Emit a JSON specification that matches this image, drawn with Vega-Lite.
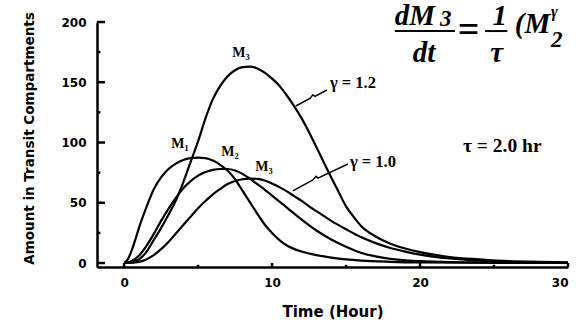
{
  "$schema": "https://vega.github.io/schema/vega-lite/v6.json",
  "width": 471,
  "height": 245,
  "autosize": {"type": "none"},
  "padding": {"left": 97, "top": 22, "right": 8, "bottom": 54},
  "background": "white",
  "config": {"view": {"stroke": null}},
  "encoding": {
    "x": {
      "field": "t", "type": "quantitative",
      "scale": {"domain": [-1.83, 30], "nice": false, "zero": false},
      "axis": {
        "values": [0, 10, 20, 30],
        "grid": false, "ticks": false,
        "domainColor": "black", "domainWidth": 2.5,
        "labelFont": "DejaVu Sans", "labelFontWeight": "bold", "labelFontSize": 12, "labelColor": "black",
        "labelPadding": 10,
        "title": "Time (Hour)",
        "titleFont": "DejaVu Sans", "titleFontWeight": "bold", "titleFontSize": 15, "titleColor": "black",
        "titleBaseline": "alphabetic", "titleY": 49
      }
    },
    "y": {
      "field": "v", "type": "quantitative",
      "scale": {"domain": [-3.3, 200], "nice": false, "zero": false},
      "axis": {
        "values": [0, 50, 100, 150, 200],
        "grid": false, "ticks": false,
        "domainColor": "black", "domainWidth": 2.5,
        "labelFont": "DejaVu Sans", "labelFontWeight": "bold", "labelFontSize": 12, "labelColor": "black",
        "labelPadding": 11,
        "title": "Amount in Transit Compartments",
        "titleFont": "DejaVu Sans", "titleFontWeight": "bold", "titleFontSize": 13.5, "titleColor": "black",
        "titleAngle": -90, "titleX": -68, "titleY": 116, "titleAlign": "center", "titleBaseline": "middle"
      }
    }
  },
  "layer": [
    {
      "data": {"values": [
        {"t": -1.83, "t2": -1.29, "v": 0}, {"t": -1.83, "t2": -1.29, "v": 50}, {"t": -1.83, "t2": -1.29, "v": 100},
        {"t": -1.83, "t2": -1.29, "v": 150}, {"t": -1.83, "t2": -1.29, "v": 200},
        {"t": -1.83, "t2": -1.6, "v": 25}, {"t": -1.83, "t2": -1.6, "v": 75}, {"t": -1.83, "t2": -1.6, "v": 125}, {"t": -1.83, "t2": -1.6, "v": 175}
      ]},
      "mark": {"type": "rule", "color": "black", "strokeWidth": 2.5, "clip": false},
      "encoding": {"x2": {"field": "t2"}}
    },
    {
      "data": {"values": [
        {"t": 0, "v": -3.3, "v2": 0}, {"t": 10, "v": -3.3, "v2": 0}, {"t": 20, "v": -3.3, "v2": 0}, {"t": 30, "v": -3.3, "v2": 0},
        {"t": 5, "v": -3.3, "v2": -1.5}, {"t": 15, "v": -3.3, "v2": -1.5}, {"t": 25, "v": -3.3, "v2": -1.5}
      ]},
      "mark": {"type": "rule", "color": "black", "strokeWidth": 2.5, "clip": false},
      "encoding": {"y2": {"field": "v2"}}
    },
    {
      "data": {"values": [
        {"series": "M1", "t": 0, "v": 0}, {"series": "M1", "t": 0.25, "v": 3}, {"series": "M1", "t": 0.5, "v": 10}, {"series": "M1", "t": 0.75, "v": 19},
        {"series": "M1", "t": 1, "v": 29}, {"series": "M1", "t": 1.5, "v": 46}, {"series": "M1", "t": 2, "v": 61}, {"series": "M1", "t": 2.5, "v": 71},
        {"series": "M1", "t": 3, "v": 78}, {"series": "M1", "t": 3.5, "v": 82.5}, {"series": "M1", "t": 4, "v": 85.5}, {"series": "M1", "t": 4.5, "v": 87},
        {"series": "M1", "t": 5, "v": 87.5}, {"series": "M1", "t": 5.5, "v": 87}, {"series": "M1", "t": 6, "v": 85}, {"series": "M1", "t": 6.5, "v": 81.5},
        {"series": "M1", "t": 7, "v": 76.5}, {"series": "M1", "t": 7.5, "v": 69.5}, {"series": "M1", "t": 8, "v": 60}, {"series": "M1", "t": 8.5, "v": 50.5},
        {"series": "M1", "t": 9, "v": 41}, {"series": "M1", "t": 9.5, "v": 32}, {"series": "M1", "t": 10, "v": 25}, {"series": "M1", "t": 10.5, "v": 19},
        {"series": "M1", "t": 11, "v": 14.5}, {"series": "M1", "t": 12, "v": 9.5}, {"series": "M1", "t": 13, "v": 6.5}, {"series": "M1", "t": 14, "v": 4.5},
        {"series": "M1", "t": 15, "v": 3}, {"series": "M1", "t": 16, "v": 2}, {"series": "M1", "t": 18, "v": 1}, {"series": "M1", "t": 20, "v": 0.5},
        {"series": "M1", "t": 25, "v": 0.2}, {"series": "M1", "t": 30, "v": 0},
        {"series": "M2", "t": 0, "v": 0}, {"series": "M2", "t": 0.5, "v": 1.5}, {"series": "M2", "t": 1, "v": 6}, {"series": "M2", "t": 1.5, "v": 14},
        {"series": "M2", "t": 2, "v": 24}, {"series": "M2", "t": 2.5, "v": 35}, {"series": "M2", "t": 3, "v": 45}, {"series": "M2", "t": 3.5, "v": 54},
        {"series": "M2", "t": 4, "v": 62}, {"series": "M2", "t": 4.5, "v": 68}, {"series": "M2", "t": 5, "v": 72.5}, {"series": "M2", "t": 5.5, "v": 75.5},
        {"series": "M2", "t": 6, "v": 77.3}, {"series": "M2", "t": 6.5, "v": 78}, {"series": "M2", "t": 7, "v": 78}, {"series": "M2", "t": 7.5, "v": 76.8},
        {"series": "M2", "t": 8, "v": 74}, {"series": "M2", "t": 8.5, "v": 70}, {"series": "M2", "t": 9, "v": 65.5}, {"series": "M2", "t": 9.5, "v": 61},
        {"series": "M2", "t": 10, "v": 56}, {"series": "M2", "t": 10.5, "v": 51}, {"series": "M2", "t": 11, "v": 46}, {"series": "M2", "t": 12, "v": 36},
        {"series": "M2", "t": 13, "v": 27}, {"series": "M2", "t": 14, "v": 19.5}, {"series": "M2", "t": 15, "v": 13.5}, {"series": "M2", "t": 16, "v": 8.5},
        {"series": "M2", "t": 17, "v": 5.5}, {"series": "M2", "t": 18, "v": 3.5}, {"series": "M2", "t": 19, "v": 2.2}, {"series": "M2", "t": 20, "v": 1.5},
        {"series": "M2", "t": 22, "v": 0.7}, {"series": "M2", "t": 25, "v": 0.3}, {"series": "M2", "t": 30, "v": 0},
        {"series": "M3g10", "t": 0, "v": 0}, {"series": "M3g10", "t": 0.5, "v": 0.2}, {"series": "M3g10", "t": 1, "v": 1}, {"series": "M3g10", "t": 1.5, "v": 3},
        {"series": "M3g10", "t": 2, "v": 6.5}, {"series": "M3g10", "t": 2.5, "v": 11.5}, {"series": "M3g10", "t": 3, "v": 17.5}, {"series": "M3g10", "t": 3.5, "v": 24.5},
        {"series": "M3g10", "t": 4, "v": 31.5}, {"series": "M3g10", "t": 4.5, "v": 38.5}, {"series": "M3g10", "t": 5, "v": 45.5}, {"series": "M3g10", "t": 5.5, "v": 51.5},
        {"series": "M3g10", "t": 6, "v": 57}, {"series": "M3g10", "t": 6.5, "v": 61.5}, {"series": "M3g10", "t": 7, "v": 65.5}, {"series": "M3g10", "t": 7.5, "v": 68},
        {"series": "M3g10", "t": 8, "v": 69.5}, {"series": "M3g10", "t": 8.5, "v": 70}, {"series": "M3g10", "t": 9, "v": 69.8}, {"series": "M3g10", "t": 9.5, "v": 68.5},
        {"series": "M3g10", "t": 10, "v": 66}, {"series": "M3g10", "t": 10.5, "v": 63}, {"series": "M3g10", "t": 11, "v": 59.5}, {"series": "M3g10", "t": 11.5, "v": 55.5},
        {"series": "M3g10", "t": 12, "v": 51.5}, {"series": "M3g10", "t": 12.5, "v": 47}, {"series": "M3g10", "t": 13, "v": 43}, {"series": "M3g10", "t": 14, "v": 35},
        {"series": "M3g10", "t": 15, "v": 28}, {"series": "M3g10", "t": 16, "v": 21.5}, {"series": "M3g10", "t": 17, "v": 16.5}, {"series": "M3g10", "t": 18, "v": 12.5},
        {"series": "M3g10", "t": 19, "v": 9.5}, {"series": "M3g10", "t": 20, "v": 7}, {"series": "M3g10", "t": 22, "v": 3.8}, {"series": "M3g10", "t": 24, "v": 2},
        {"series": "M3g10", "t": 26, "v": 1}, {"series": "M3g10", "t": 28, "v": 0.5}, {"series": "M3g10", "t": 30, "v": 0.3},
        {"series": "M3g12", "t": 0, "v": 0}, {"series": "M3g12", "t": 0.5, "v": 0.5}, {"series": "M3g12", "t": 1, "v": 3}, {"series": "M3g12", "t": 1.5, "v": 9},
        {"series": "M3g12", "t": 2, "v": 19}, {"series": "M3g12", "t": 2.5, "v": 29}, {"series": "M3g12", "t": 3, "v": 40}, {"series": "M3g12", "t": 3.5, "v": 52},
        {"series": "M3g12", "t": 4, "v": 67}, {"series": "M3g12", "t": 4.5, "v": 84}, {"series": "M3g12", "t": 5, "v": 101}, {"series": "M3g12", "t": 5.5, "v": 120},
        {"series": "M3g12", "t": 6, "v": 136}, {"series": "M3g12", "t": 6.5, "v": 147}, {"series": "M3g12", "t": 7, "v": 155}, {"series": "M3g12", "t": 7.5, "v": 160},
        {"series": "M3g12", "t": 8, "v": 162.5}, {"series": "M3g12", "t": 8.5, "v": 163}, {"series": "M3g12", "t": 9, "v": 161.5}, {"series": "M3g12", "t": 9.5, "v": 158},
        {"series": "M3g12", "t": 10, "v": 153}, {"series": "M3g12", "t": 10.5, "v": 147}, {"series": "M3g12", "t": 11, "v": 139}, {"series": "M3g12", "t": 11.5, "v": 130},
        {"series": "M3g12", "t": 12, "v": 120}, {"series": "M3g12", "t": 12.5, "v": 108.5}, {"series": "M3g12", "t": 13, "v": 96}, {"series": "M3g12", "t": 13.5, "v": 83.5},
        {"series": "M3g12", "t": 14, "v": 71}, {"series": "M3g12", "t": 14.5, "v": 59}, {"series": "M3g12", "t": 15, "v": 47}, {"series": "M3g12", "t": 15.5, "v": 38.5},
        {"series": "M3g12", "t": 16, "v": 31}, {"series": "M3g12", "t": 17, "v": 22}, {"series": "M3g12", "t": 18, "v": 16}, {"series": "M3g12", "t": 19, "v": 12},
        {"series": "M3g12", "t": 20, "v": 9}, {"series": "M3g12", "t": 22, "v": 5}, {"series": "M3g12", "t": 24, "v": 3}, {"series": "M3g12", "t": 26, "v": 1.5},
        {"series": "M3g12", "t": 28, "v": 1}, {"series": "M3g12", "t": 30, "v": 0.5}
      ]},
      "mark": {"type": "line", "interpolate": "monotone", "color": "black", "clip": false},
      "encoding": {
        "detail": {"field": "series", "type": "nominal"},
        "strokeWidth": {"field": "series", "type": "nominal", "legend": null,
          "scale": {"domain": ["M1", "M2", "M3g10", "M3g12"], "range": [2.2, 2.2, 2.2, 4]}}
      }
    },
    {
      "data": {"values": [
        {"arrow": "g12", "i": 0, "t": 13.71, "v": 143.6}, {"arrow": "g12", "i": 1, "t": 12.9, "v": 138.2}, {"arrow": "g12", "i": 2, "t": 12.76, "v": 139.6},
        {"arrow": "g12", "i": 3, "t": 12.56, "v": 136.5}, {"arrow": "g12", "i": 4, "t": 11.61, "v": 130.3},
        {"arrow": "g10", "i": 0, "t": 15.13, "v": 82.2}, {"arrow": "g10", "i": 1, "t": 13.1, "v": 70.5}, {"arrow": "g10", "i": 2, "t": 12.97, "v": 71.9},
        {"arrow": "g10", "i": 3, "t": 12.76, "v": 68.9}, {"arrow": "g10", "i": 4, "t": 11.41, "v": 59.8}
      ]},
      "mark": {"type": "line", "color": "black", "strokeWidth": 1.5, "clip": false},
      "encoding": {
        "detail": {"field": "arrow", "type": "nominal"},
        "order": {"field": "i", "type": "quantitative"}
      }
    },
    {
      "data": {"values": [
        {"label": "M₁", "t": 3.78, "v": 98.8},
        {"label": "M₂", "t": 7.16, "v": 92.1},
        {"label": "M₃", "t": 9.45, "v": 79.7},
        {"label": "M₃", "t": 7.9, "v": 174.3}
      ]},
      "mark": {"type": "text", "font": "Liberation Serif", "fontWeight": "bold", "fontSize": 14, "align": "center", "baseline": "middle", "color": "black", "clip": false},
      "encoding": {"text": {"field": "label"}}
    },
    {
      "data": {"values": [
        {"label": "γ = 1.2", "t": 13.91, "v": 149.4},
        {"label": "γ = 1.0", "t": 15.26, "v": 83.8}
      ]},
      "mark": {"type": "text", "font": "Liberation Serif", "fontWeight": "bold", "fontSize": 16.5, "align": "left", "baseline": "middle", "color": "black", "clip": false},
      "encoding": {"text": {"field": "label"}}
    },
    {
      "data": {"values": [
        {"label": "τ = 2.0 hr", "t": 22.9, "v": 97.1}
      ]},
      "mark": {"type": "text", "font": "Liberation Serif", "fontWeight": "bold", "fontSize": 19.5, "align": "left", "baseline": "middle", "color": "black", "clip": false},
      "encoding": {"text": {"field": "label"}}
    },
    {
      "data": {"values": [
        {"label": "dM", "t": 18.3, "v": 197.5},
        {"label": "dt", "t": 19.5, "v": 166.8},
        {"label": "1", "t": 24.9, "v": 197.5},
        {"label": "τ", "t": 24.75, "v": 166.8},
        {"label": "(M", "t": 26.4, "v": 190.9}
      ]},
      "mark": {"type": "text", "font": "Liberation Serif", "fontWeight": "bold", "fontStyle": "italic", "fontSize": 29, "align": "left", "baseline": "alphabetic", "color": "black", "clip": false},
      "encoding": {"text": {"field": "label"}}
    },
    {
      "data": {"values": [
        {"label": "=", "t": 22.55, "v": 183}
      ]},
      "mark": {"type": "text", "font": "Liberation Serif", "fontWeight": "bold", "fontSize": 38, "align": "left", "baseline": "alphabetic", "color": "black", "clip": false},
      "encoding": {"text": {"field": "label"}}
    },
    {
      "data": {"values": [
        {"label": "3", "t": 21.35, "v": 196.7},
        {"label": "2", "t": 28.85, "v": 179.3}
      ]},
      "mark": {"type": "text", "font": "Liberation Serif", "fontWeight": "bold", "fontStyle": "italic", "fontSize": 23, "align": "left", "baseline": "alphabetic", "color": "black", "clip": false},
      "encoding": {"text": {"field": "label"}}
    },
    {
      "data": {"values": [
        {"label": "γ", "t": 28.85, "v": 204.5}
      ]},
      "mark": {"type": "text", "font": "Liberation Serif", "fontWeight": "bold", "fontStyle": "italic", "fontSize": 16, "align": "left", "baseline": "alphabetic", "color": "black", "clip": false},
      "encoding": {"text": {"field": "label"}}
    },
    {
      "data": {"values": [
        {"t": 18.3, "t2": 22.36, "v": 192.5},
        {"t": 24.4, "t2": 25.9, "v": 192.5}
      ]},
      "mark": {"type": "rule", "color": "black", "strokeWidth": 2, "clip": false},
      "encoding": {"x2": {"field": "t2"}}
    }
  ]
}
